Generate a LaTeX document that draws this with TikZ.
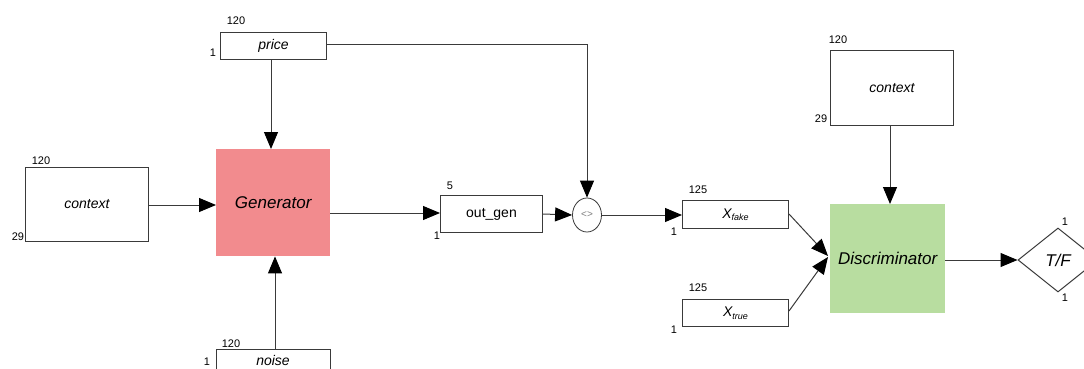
\documentclass[tikz,border=0pt]{standalone}
\usepackage{fontspec}
\setmainfont{Liberation Sans}
\usetikzlibrary{arrows.meta,shapes.geometric}
\definecolor{gencol}{HTML}{F28B8E}
\definecolor{disccol}{HTML}{B8DDA0}
\definecolor{linecol}{HTML}{3A3A3A}
\begin{document}
\begin{tikzpicture}[x=1pt,y=-1pt,
  box/.style={draw=linecol,line width=1pt,inner sep=0pt,anchor=north west,font=\fontsize{14}{16}\selectfont\itshape},
  blk/.style={inner sep=0pt,anchor=north west,font=\fontsize{17}{19}\selectfont\itshape},
  num/.style={inner sep=0pt,font=\fontsize{11}{12}\selectfont},
  conn/.style={draw=linecol,line width=1pt,-{Triangle[length=17pt,width=14pt,color=black]}}]
\clip (0,0) rectangle (1084,369);
\fill[white] (0,0) rectangle (1084,369);
% boxes
\node[box,minimum width=106pt,minimum height=27pt] (price) at (220,32) {};
\node[font=\fontsize{14}{16}\selectfont\itshape] at (price.center) {price};
\node[fill=gencol,minimum width=114pt,minimum height=107pt,blk] (gen) at (216,149) {};
\node[font=\fontsize{17}{19}\selectfont\itshape] at (gen.center) {Generator};
\node[box,minimum width=123pt,minimum height=74pt] (ctxl) at (25,167) {};
\node[font=\fontsize{14}{16}\selectfont\itshape] at (ctxl.center) {context};
\node[box,minimum width=114pt,minimum height=40pt] (noise) at (216,349) {};
\node[font=\fontsize{14}{16}\selectfont\itshape] at (273,360) {noise};
\node[box,minimum width=102pt,minimum height=37pt] (outgen) at (440,195) {};
\node[font=\fontsize{14}{16}\selectfont] at (outgen.center) {out\_gen};
\node[draw=linecol,line width=0.8pt,ellipse,minimum width=29pt,minimum height=34pt,inner sep=0pt] (cat) at (587,215) {};
\node[font=\fontsize{10}{12}\selectfont,text=gray] at (cat.center) {<>};
\node[box,minimum width=106pt,minimum height=28pt] (xf) at (682,200) {};
\node[font=\fontsize{14}{16}\selectfont\itshape] at (xf.center) {X\raisebox{-2.5pt}{\fontsize{9}{10}\selectfont fake}};
\node[box,minimum width=106pt,minimum height=27pt] (xt) at (682,299) {};
\node[font=\fontsize{14}{16}\selectfont\itshape] at (xt.center) {X\raisebox{-2.5pt}{\fontsize{9}{10}\selectfont true}};
\node[box,minimum width=123pt,minimum height=75pt] (ctxr) at (830,50) {};
\node[font=\fontsize{14}{16}\selectfont\itshape] at (ctxr.center) {context};
\node[fill=disccol,minimum width=115pt,minimum height=109pt,blk] (disc) at (830,204) {};
\node[font=\fontsize{17}{19}\selectfont\itshape] at (disc.center) {Discriminator};
\node[draw=linecol,line width=1pt,diamond,minimum width=80pt,minimum height=64pt,inner sep=0pt] (tf) at (1058,260) {};
\node[font=\fontsize{17}{19}\selectfont\itshape] at (1058,260) {T/F};
% numbers
\node[num] at (236,21) {120};
\node[num] at (213,53) {1};
\node[num] at (41,161) {120};
\node[num] at (18,237) {29};
\node[num] at (231,344) {120};
\node[num] at (207,362) {1};
\node[num] at (450,186) {5};
\node[num] at (437,236) {1};
\node[num] at (698,190) {125};
\node[num] at (674,232) {1};
\node[num] at (698,288) {125};
\node[num] at (674,330) {1};
\node[num] at (838,40) {120};
\node[num] at (821,119) {29};
\node[num] at (1065,222) {1};
\node[num] at (1065,298) {1};
% connectors
\draw[conn] (price.south -| 271,0) -- (gen.north -| 271,0);
\draw[conn] (ctxl.east |- 0,205) -- (gen.west |- 0,205);
\draw[conn] (noise.north -| 275,0) -- (gen.south -| 275,0);
\draw[conn] (gen.east |- 0,213) -- (outgen.west |- 0,213);
\draw[conn] (outgen.east |- 0,214) -- (cat.west);
\draw[conn] (price.east |- 0,45) -| (cat.north);
\draw[conn] (cat.east) -- (xf.west |- cat.east);
\draw[conn] (xf.east |- 0,214) -- (828,256);
\draw[conn] (xt.east |- 0,311) -- (828,257);
\draw[conn] (ctxr.south -| 890,0) -- (disc.north -| 890,0);
\draw[conn] (disc.east |- tf.west) -- (tf.west);
\end{tikzpicture}
\end{document}
